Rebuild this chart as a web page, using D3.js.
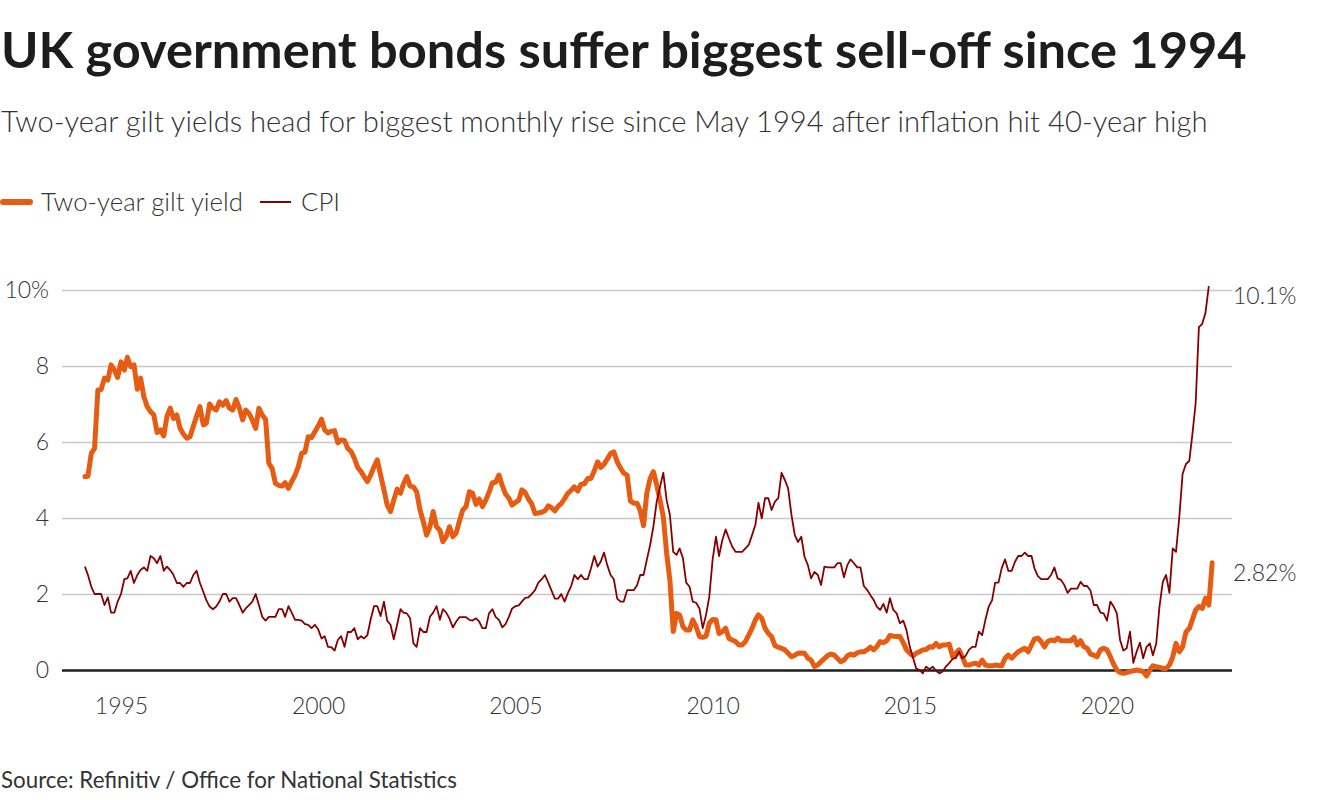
<!DOCTYPE html>
<html>
  <head>
    <meta charset="utf-8" />
    <style>
      body {
        margin: 0;
        background: #fff;
      }

      svg {
        display: block;
        font-family: Lato, "Noto Sans", sans-serif;
      }

      .title {
        font-weight: 700;
        fill: #1d1d1d;
      }

      .subtitle {
        font-weight: 300;
        fill: #333;
      }

      .legend text {
        font-weight: 300;
        fill: #333;
      }

      .y .tick text,
      .x .tick text,
      .end-label {
        font-family: Lato, "Noto Sans", sans-serif;
        font-size: 23px;
        font-weight: 300;
        fill: #333;
      }

      .grid .tick line {
        stroke: #c8c8c8;
        stroke-width: 1.5;
      }

      .domain {
        display: none;
      }

      .source {
        fill: #333;
        font-weight: 400;
      }
    </style>
  </head>

  <body>
    <svg width="1320" height="800"></svg>

    <script src="https://d3js.org/d3.v7.min.js"></script>

    <script>
      // monthly series, first value = January 1994
      const startMonth = "1994-01";

      // two-year gilt yield, % (Jan 1994 - Aug 2022)
      const giltYield = [
        5.09, 5.10, 5.70, 5.83, 7.37, 7.38, 7.68, 7.63, 8.03, 7.89,
        7.70, 8.11, 7.89, 8.23, 7.98, 8.03, 7.39, 7.68, 7.19, 6.93,
        6.80, 6.71, 6.25, 6.32, 6.16, 6.67, 6.89, 6.62, 6.71, 6.36,
        6.21, 6.10, 6.14, 6.42, 6.68, 6.93, 6.45, 6.49, 7.00, 6.89,
        6.84, 7.06, 6.97, 7.09, 6.89, 6.84, 7.12, 6.89, 6.58, 6.84,
        6.75, 6.58, 6.36, 6.89, 6.71, 6.60, 5.44, 5.30, 4.91, 4.86,
        4.84, 4.93, 4.78, 4.96, 5.13, 5.35, 5.70, 5.74, 6.14, 6.12,
        6.27, 6.42, 6.60, 6.32, 6.24, 6.28, 6.30, 5.98, 6.05, 6.04,
        5.83, 5.75, 5.57, 5.33, 5.22, 5.09, 4.96, 5.13, 5.35, 5.53,
        5.13, 4.74, 4.34, 4.17, 4.47, 4.76, 4.65, 4.90, 5.09, 4.84,
        4.82, 4.69, 4.21, 3.90, 3.55, 3.77, 4.17, 3.77, 3.68, 3.38,
        3.51, 3.77, 3.51, 3.60, 3.92, 4.21, 4.30, 4.69, 4.65, 4.36,
        4.50, 4.30, 4.47, 4.67, 4.93, 4.94, 5.13, 4.85, 4.63, 4.52,
        4.34, 4.41, 4.47, 4.74, 4.67, 4.50, 4.37, 4.12, 4.13, 4.15,
        4.19, 4.32, 4.27, 4.19, 4.31, 4.38, 4.51, 4.65, 4.73, 4.82,
        4.71, 4.89, 4.90, 5.04, 5.04, 5.24, 5.48, 5.33, 5.41, 5.55,
        5.70, 5.74, 5.48, 5.31, 5.18, 5.13, 4.45, 4.39, 4.39, 4.20,
        3.80, 4.65, 5.04, 5.22, 4.87, 4.47, 4.03, 3.07, 2.37, 1.01,
        1.49, 1.45, 1.14, 1.05, 1.05, 1.32, 1.14, 0.88, 0.86, 0.89,
        1.23, 1.33, 1.32, 0.96, 1.01, 1.10, 0.83, 0.79, 0.75, 0.66,
        0.66, 0.75, 0.92, 1.10, 1.32, 1.45, 1.36, 1.10, 0.96, 0.88,
        0.64, 0.60, 0.57, 0.53, 0.44, 0.35, 0.39, 0.44, 0.45, 0.44,
        0.31, 0.26, 0.09, 0.13, 0.22, 0.30, 0.38, 0.42, 0.39, 0.31,
        0.22, 0.26, 0.37, 0.42, 0.39, 0.45, 0.48, 0.48, 0.53, 0.60,
        0.53, 0.61, 0.75, 0.72, 0.77, 0.91, 0.89, 0.88, 0.88, 0.72,
        0.53, 0.44, 0.37, 0.44, 0.48, 0.53, 0.54, 0.61, 0.60, 0.70,
        0.61, 0.66, 0.66, 0.68, 0.35, 0.44, 0.53, 0.35, 0.13, 0.13,
        0.16, 0.18, 0.13, 0.26, 0.13, 0.11, 0.11, 0.13, 0.12, 0.11,
        0.31, 0.39, 0.31, 0.40, 0.48, 0.53, 0.57, 0.48, 0.66, 0.82,
        0.84, 0.75, 0.61, 0.75, 0.79, 0.77, 0.84, 0.77, 0.77, 0.77,
        0.77, 0.86, 0.66, 0.77, 0.61, 0.57, 0.42, 0.39, 0.35, 0.53,
        0.57, 0.53, 0.35, 0.16, 0.0, -0.07, -0.09, -0.07, -0.04, -0.02,
        0.0, -0.02, -0.04, -0.16, 0.0, 0.11, 0.09, 0.07, 0.04, 0.04,
        0.13, 0.35, 0.70, 0.48, 0.61, 1.0, 1.09, 1.32, 1.58, 1.67,
        1.62, 1.89, 1.71, 2.82,
      ];

      // CPI annual rate, % (Jan 1994 - Jul 2022)
      const cpi = [
        2.72, 2.50, 2.19, 2.0, 2.0, 2.0, 1.71, 1.91, 1.51, 1.51,
        1.80, 2.0, 2.39, 2.41, 2.61, 2.29, 2.50, 2.63, 2.70, 2.61,
        3.0, 2.94, 2.81, 3.0, 2.61, 2.72, 2.63, 2.50, 2.29, 2.29,
        2.19, 2.29, 2.29, 2.50, 2.61, 2.29, 2.06, 1.84, 1.67, 1.60,
        1.67, 1.80, 2.0, 2.0, 1.80, 1.89, 1.89, 1.71, 1.51, 1.62,
        1.71, 1.80, 2.0, 1.71, 1.40, 1.30, 1.40, 1.40, 1.40, 1.60,
        1.60, 1.40, 1.68, 1.51, 1.32, 1.32, 1.30, 1.21, 1.19, 1.10,
        1.19, 1.07, 0.83, 0.89, 0.61, 0.60, 0.51, 0.79, 0.89, 0.61,
        1.0, 1.0, 1.10, 0.81, 0.89, 0.83, 0.92, 1.33, 1.68, 1.68,
        1.42, 1.80, 1.30, 1.19, 0.81, 1.19, 1.60, 1.51, 1.49, 1.36,
        0.70, 0.61, 1.10, 1.0, 1.0, 1.40, 1.51, 1.68, 1.32, 1.60,
        1.51, 1.35, 1.12, 1.27, 1.39, 1.39, 1.39, 1.32, 1.30, 1.36,
        1.27, 1.10, 1.10, 1.49, 1.60, 1.40, 1.32, 1.12, 1.21, 1.40,
        1.62, 1.68, 1.70, 1.80, 1.90, 1.91, 2.0, 2.10, 2.30, 2.39,
        2.50, 2.30, 2.09, 1.88, 1.88, 2.0, 1.80, 2.02, 2.21, 2.50,
        2.39, 2.50, 2.39, 2.39, 2.67, 3.0, 2.72, 2.85, 3.09, 2.76,
        2.50, 2.39, 1.88, 1.80, 1.80, 2.10, 2.10, 2.10, 2.23, 2.50,
        2.50, 2.89, 3.29, 3.77, 4.43, 4.82, 5.19, 4.47, 4.08, 3.11,
        3.03, 3.20, 2.94, 2.30, 2.19, 1.80, 1.77, 1.62, 1.10, 1.45,
        1.93, 2.91, 3.51, 3.0, 3.42, 3.70, 3.46, 3.25, 3.11, 3.11,
        3.11, 3.20, 3.29, 3.55, 3.82, 4.40, 3.99, 4.52, 4.52, 4.21,
        4.43, 4.52, 5.19, 5.0, 4.78, 4.08, 3.55, 3.37, 3.51, 2.98,
        2.76, 2.41, 2.58, 2.50, 2.24, 2.72, 2.70, 2.70, 2.70, 2.81,
        2.81, 2.44, 2.76, 2.91, 2.81, 2.70, 2.70, 2.21, 2.11, 1.97,
        1.84, 1.67, 1.58, 1.74, 1.51, 1.89, 1.58, 1.49, 1.23, 1.30,
        1.05, 0.61, 0.31, 0.04, 0.0, -0.09, 0.09, 0.02, 0.09, -0.02,
        -0.09, -0.04, 0.09, 0.18, 0.29, 0.31, 0.48, 0.31, 0.37, 0.53,
        0.61, 0.61, 1.01, 0.92, 1.32, 1.67, 1.84, 2.30, 2.30, 2.68,
        2.91, 2.61, 2.61, 2.85, 3.0, 3.0, 3.09, 3.0, 3.0, 2.67,
        2.47, 2.39, 2.39, 2.39, 2.50, 2.70, 2.41, 2.37, 2.24, 2.03,
        2.14, 2.14, 2.14, 2.32, 2.21, 2.21, 2.09, 1.71, 1.71, 1.51,
        1.49, 1.30, 1.80, 1.68, 1.49, 0.79, 0.51, 0.57, 1.01, 0.19,
        0.48, 0.72, 0.31, 0.61, 0.70, 0.39, 0.70, 1.67, 2.32, 2.50,
        2.03, 3.20, 3.11, 4.04, 5.16, 5.42, 5.50, 6.18, 7.02, 9.02,
        9.11, 9.40, 10.1,
      ];

      const yTicks = [0, 2, 4, 6, 8, 10];
      const xTickYears = [1995, 2000, 2005, 2010, 2015, 2020];

      const seriesNames = ["Two-year gilt yield", "CPI"];
      const seriesColors = ["#e65c13", "#870000"];

      let svg = d3.select("svg");

      let start = d3.timeParse("%Y-%m")(startMonth);

      // monthly values are plotted at the end of their month
      function toPoints(values) {
        return values.map((v, i) => ({
          date: d3.timeMonth.offset(start, i + 1),
          value: v,
        }));
      }

      let giltData = toPoints(giltYield);
      let cpiData = toPoints(cpi);

      let x = d3
        .scaleTime()
        .domain([new Date(1995, 0, 1), new Date(2020, 0, 1)])
        .range([121, 1107]);

      let y = d3.scaleLinear().domain([0, 10]).range([670, 290]);

      let plotLeft = 62;
      let plotRight = 1232;

      // fit a text element to a measured width
      function fitWidth(sel, target) {
        let w = sel.node().getComputedTextLength();
        let fs = parseFloat(sel.style("font-size"));
        sel.style("font-size", (fs * target) / w + "px");
      }

      // headline + dek
      let title = svg
        .append("text")
        .attr("class", "title")
        .attr("x", 1)
        .attr("y", 68)
        .style("font-size", "46px")
        .text("UK government bonds suffer biggest sell-off since 1994");
      fitWidth(title, 1246);

      let subtitle = svg
        .append("text")
        .attr("class", "subtitle")
        .attr("x", 1)
        .attr("y", 132)
        .style("font-size", "28px")
        .text(
          "Two-year gilt yields head for biggest monthly rise since May 1994 after inflation hit 40-year high"
        );
      fitWidth(subtitle, 1207);

      // legend
      let legend = svg.append("g").attr("class", "legend");

      legend
        .append("line")
        .attr("x1", 3)
        .attr("x2", 30)
        .attr("y1", 202)
        .attr("y2", 202)
        .attr("stroke", seriesColors[0])
        .attr("stroke-width", 6)
        .attr("stroke-linecap", "round");

      let leg1 = legend
        .append("text")
        .attr("x", 41)
        .attr("y", 211)
        .style("font-size", "25px")
        .text(seriesNames[0]);
      fitWidth(leg1, 202);

      legend
        .append("line")
        .attr("x1", 260)
        .attr("x2", 291)
        .attr("y1", 202)
        .attr("y2", 202)
        .attr("stroke", seriesColors[1])
        .attr("stroke-width", 2);

      legend
        .append("text")
        .attr("x", 301)
        .attr("y", 211)
        .style("font-size", leg1.style("font-size"))
        .text(seriesNames[1]);

      // gridlines
      let grid = svg
        .append("g")
        .attr("class", "grid")
        .attr("transform", `translate(${plotLeft}, 0)`)
        .call(
          d3
            .axisRight(y)
            .tickValues(yTicks)
            .tickSize(plotRight - plotLeft)
            .tickFormat("")
        );

      grid
        .selectAll(".tick")
        .filter((d) => d === 0)
        .select("line")
        .style("stroke", "#1e1e1e")
        .style("stroke-width", 2.5);

      // y labels
      svg
        .append("g")
        .attr("class", "y axis")
        .attr("transform", "translate(49, 0)")
        .call(
          d3
            .axisLeft(y)
            .tickValues(yTicks)
            .tickSize(0)
            .tickPadding(0)
            .tickFormat((d) => (d === 10 ? "10%" : d))
        );

      // x labels
      svg
        .append("g")
        .attr("class", "x axis")
        .attr("transform", "translate(0, 670)")
        .call(
          d3
            .axisBottom(x)
            .tickValues(xTickYears.map((yr) => new Date(yr, 0, 1)))
            .tickSize(0)
            .tickPadding(28)
            .tickFormat(d3.timeFormat("%Y"))
        );

      let line = d3
        .line()
        .x((d) => x(d.date))
        .y((d) => y(d.value));

      svg
        .append("path")
        .datum(giltData)
        .attr("fill", "none")
        .attr("stroke", seriesColors[0])
        .attr("stroke-width", 5)
        .attr("stroke-linejoin", "round")
        .attr("stroke-linecap", "round")
        .attr("d", line);

      svg
        .append("path")
        .datum(cpiData)
        .attr("fill", "none")
        .attr("stroke", seriesColors[1])
        .attr("stroke-width", 1.8)
        .attr("stroke-linejoin", "round")
        .attr("d", line);

      // end-of-line value labels
      let ends = [
        { d: cpiData[cpiData.length - 1], text: d3.format(".1f")(cpi[cpi.length - 1]) + "%" },
        { d: giltData[giltData.length - 1], text: d3.format(".2f")(giltYield[giltYield.length - 1]) + "%" },
      ];

      for (let e of ends) {
        svg
          .append("text")
          .attr("class", "end-label")
          .attr("x", 1233)
          .attr("y", y(e.d.value))
          .attr("dy", 18)
          .text(e.text);
      }

      let source = svg
        .append("text")
        .attr("class", "source")
        .attr("x", 1)
        .attr("y", 788)
        .style("font-size", "22px")
        .text("Source: Refinitiv / Office for National Statistics");
      fitWidth(source, 456);
    </script>
  </body>
</html>
